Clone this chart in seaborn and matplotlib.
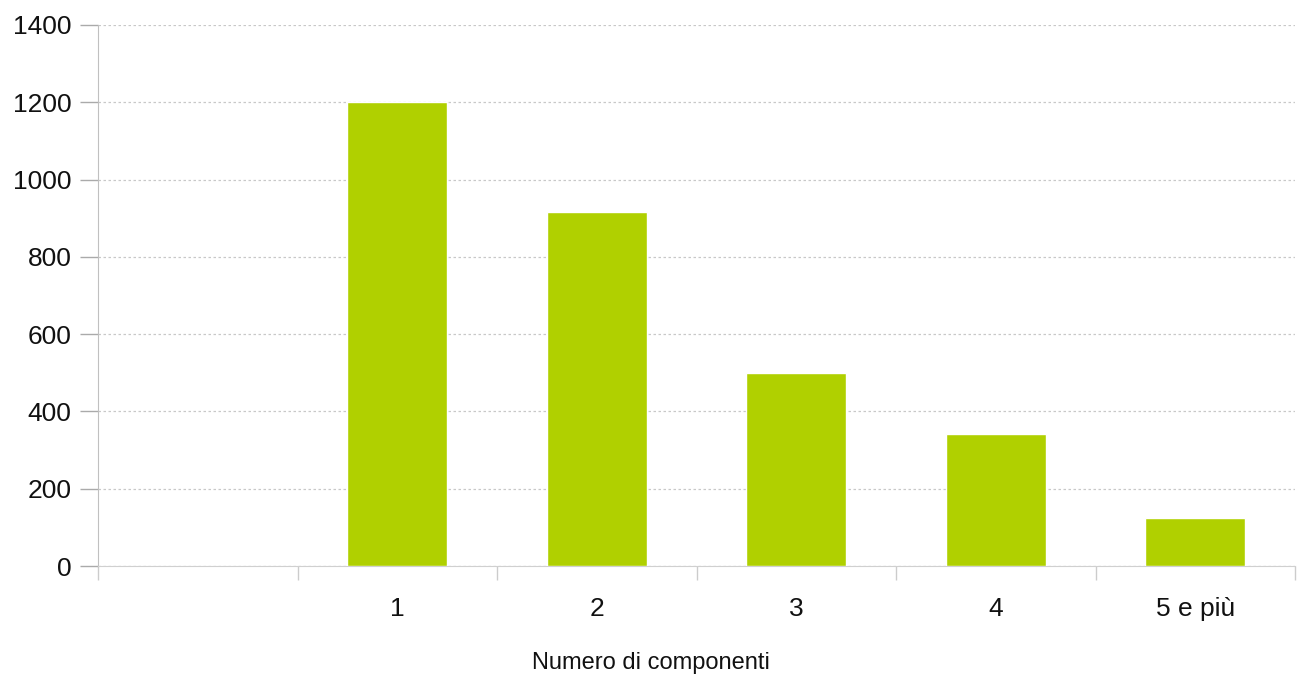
import matplotlib
matplotlib.use("Agg")
import matplotlib.pyplot as plt
import seaborn as sns
import numpy as np
import pandas as pd

# data
categorie = ["", "1", "2", "3", "4", "5 e più"]
famiglie = [0, 1200, 915, 500, 342, 125]

sns.set_style("white")
plt.rcParams['font.family'] = ['Liberation Sans', 'DejaVu Sans']

df = pd.DataFrame({"componenti": categorie, "n": famiglie})

fig = plt.figure(figsize=(13.01, 6.81), dpi=100)
ax = fig.add_axes([98/1301, 1 - 566/681, (1295 - 98)/1301, (566 - 25)/681])

sns.barplot(data=df, x="componenti", y="n", color="#b0d000", width=0.5,
            saturation=1, ax=ax, zorder=3)

ax.set_xlim(-0.5, len(categorie) - 0.5)
ax.set_ylim(0, 1400)
ax.set_yticks(np.arange(0, 1401, 200))
ax.yaxis.grid(True, linestyle=(0, (2, 2)), color="#c8c8c8", linewidth=0.9, zorder=0)

# ticks at category boundaries, labels in the middle
ax.set_xticks(np.arange(-0.5, len(categorie), 1.0), minor=True)
ax.tick_params(axis="x", which="major", bottom=True, length=0, pad=22,
               labelsize=19, labelcolor="#111111")
ax.tick_params(axis="x", which="minor", bottom=True, length=10, color="#cccccc", width=1)
ax.tick_params(axis="y", which="major", left=True, length=13, color="#aaaaaa", width=1,
               labelsize=19, labelcolor="#111111", pad=6)

for s in ["top", "right"]:
    ax.spines[s].set_visible(False)
ax.spines["left"].set_color("#c0c0c0")
ax.spines["bottom"].set_color("#d0d0d0")

ax.set_xlabel("Numero di componenti", fontsize=17, color="#111111", va="center")
ax.xaxis.set_label_coords((651 - 98) / 1197, -(663 - 566) / 541)
ax.set_ylabel("")

fig.savefig("out.png", dpi=100)
